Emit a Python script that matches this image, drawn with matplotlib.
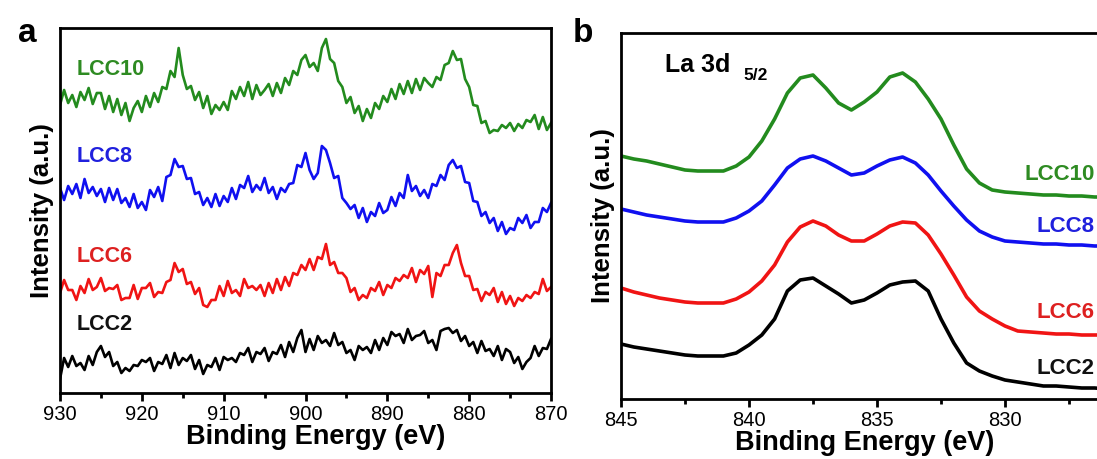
import numpy as np
import matplotlib.pyplot as plt

plt.rcParams['font.family'] = ['Liberation Sans', 'DejaVu Sans']

# ---- panel a: wide scan, 930 -> 870 eV, 0.5 eV step ----
be_a = np.linspace(930, 870, 121)
lcc10_a = [288, 303, 290, 298, 286, 301, 293, 305, 289, 300,
           300, 284, 297, 281, 294, 278, 290, 272, 285, 292,
           281, 297, 286, 300, 291, 306, 304, 322, 316, 345,
           318, 304, 307, 293, 301, 285, 297, 279, 288, 283,
           291, 283, 302, 294, 306, 297, 311, 294, 308, 298,
           303, 309, 297, 310, 300, 315, 308, 322, 318, 333,
           338, 326, 330, 322, 345, 354, 334, 330, 312, 306,
           290, 296, 280, 287, 272, 284, 275, 290, 284, 297,
           291, 304, 294, 309, 299, 312, 300, 314, 303, 315,
           310, 306, 316, 313, 328, 330, 342, 333, 334, 314,
           306, 288, 287, 270, 272, 260, 263, 262, 268, 265,
           270, 262, 269, 265, 273, 271, 278, 264, 276, 263,
           270]
lcc8_a = [205, 193, 207, 199, 209, 195, 214, 200, 206, 197,
          204, 191, 205, 193, 204, 190, 195, 186, 199, 185,
          191, 183, 203, 196, 206, 192, 216, 218, 234, 226,
          227, 214, 215, 199, 201, 188, 195, 186, 199, 187,
          197, 191, 205, 194, 208, 205, 217, 201, 208, 203,
          215, 200, 206, 194, 205, 201, 209, 210, 228, 226,
          240, 223, 214, 220, 247, 243, 230, 215, 217, 195,
          190, 184, 188, 175, 185, 171, 181, 177, 190, 180,
          183, 196, 187, 200, 195, 218, 202, 207, 197, 203,
          195, 209, 207, 218, 213, 228, 233, 225, 227, 211,
          210, 192, 191, 177, 181, 170, 175, 162, 171, 159,
          165, 163, 175, 170, 178, 165, 171, 171, 185, 181,
          190]
lcc6_a = [100, 113, 103, 103, 93, 107, 100, 114, 103, 106,
          115, 102, 105, 104, 108, 93, 95, 95, 108, 94,
          105, 105, 110, 96, 101, 100, 111, 113, 130, 121,
          124, 109, 111, 99, 105, 88, 86, 93, 93, 107,
          97, 112, 100, 103, 97, 114, 105, 107, 103, 108,
          97, 110, 100, 114, 103, 116, 107, 120, 118, 128,
          123, 134, 123, 136, 134, 149, 128, 131, 120, 120,
          115, 101, 105, 93, 98, 95, 105, 102, 111, 98,
          108, 105, 115, 112, 118, 115, 125, 111, 123, 119,
          127, 96, 120, 117, 128, 128, 140, 148, 130, 117,
          117, 103, 104, 92, 101, 98, 105, 91, 101, 89,
          97, 87, 95, 92, 98, 95, 101, 99, 114, 102,
          106]
lcc2_a = [14, 35, 26, 37, 27, 30, 23, 37, 28, 41,
          47, 36, 41, 27, 31, 20, 25, 22, 28, 27,
          33, 31, 35, 22, 31, 29, 38, 25, 40, 28,
          35, 32, 38, 24, 33, 19, 28, 26, 35, 23,
          36, 33, 35, 31, 40, 38, 45, 31, 41, 39,
          45, 32, 41, 39, 48, 36, 51, 41, 55, 63,
          41, 54, 43, 57, 50, 53, 47, 60, 48, 51,
          40, 43, 33, 47, 43, 46, 40, 53, 43, 55,
          48, 61, 57, 59, 50, 64, 53, 57, 58, 62,
          50, 53, 43, 62, 64, 65, 60, 63, 52, 57,
          47, 51, 40, 52, 42, 44, 37, 47, 33, 44,
          41, 30, 36, 24, 31, 35, 47, 37, 45, 44,
          54]

# ---- panel b: La 3d5/2, 845 -> 825 eV, 0.5 eV step ----
be_b = np.linspace(845, 825, 41)
lcc10_b = [243, 240, 238, 235, 232, 229, 228, 228, 228, 233,
           242, 258, 280, 306, 321, 324, 311, 296, 289, 297,
           307, 322, 326, 317, 300, 280, 254, 230, 216, 209,
           207, 206, 205, 204, 204, 203, 203, 202, 202, 202,
           202]
lcc8_b = [190, 187, 184, 182, 180, 178, 177, 177, 177, 181,
          188, 198, 214, 231, 240, 243, 238, 231, 224, 226,
          233, 239, 242, 236, 224, 208, 193, 179, 168, 162,
          158, 157, 156, 155, 155, 154, 154, 153, 153, 153,
          153]
lcc6_b = [111, 107, 104, 101, 99, 97, 96, 96, 96, 100,
          107, 118, 134, 157, 172, 178, 173, 164, 158, 158,
          165, 173, 177, 176, 164, 145, 124, 102, 88, 80,
          73, 68, 67, 66, 65, 65, 64, 64, 64, 63,
          63]
lcc2_b = [55, 52, 50, 48, 46, 44, 43, 43, 43, 46,
          54, 64, 80, 108, 119, 121, 113, 105, 96, 99,
          106, 114, 117, 118, 108, 80, 56, 36, 28, 23,
          19, 17, 15, 13, 13, 12, 11, 11, 10, 10,
          10]

names = ['LCC10', 'LCC8', 'LCC6', 'LCC2']
colors = ['#238b1e', '#1010f0', '#f01414', '#000000']
text_colors = ['#2e8b22', '#2020dd', '#dd2020', '#111111']


def style_axes(ax):
    for s in ax.spines.values():
        s.set_linewidth(2)
    ax.set_yticks([])
    ax.tick_params(axis='x', which='major', direction='out', length=6, width=2,
                   labelsize=14.5, pad=3)
    ax.tick_params(axis='x', which='minor', direction='out', length=3.5, width=2)
    ax.set_ylabel('Intensity (a.u.)', fontsize=18.5, fontweight='bold', labelpad=4)
    ax.set_xlabel('Binding Energy (eV)', fontsize=19.5, fontweight='bold')


fig = plt.figure(figsize=(10.97, 4.59), dpi=100)

ax1 = fig.add_axes([60 / 1097, 1 - 393 / 459, 491 / 1097, 365 / 459])
for y, c in zip([lcc10_a, lcc8_a, lcc6_a, lcc2_a], colors):
    ax1.plot(be_a, y, color=c, lw=1.9)
ax1.set_xlim(930, 870)
ax1.set_ylim(0, 365)
ax1.set_xticks(np.arange(930, 869, -10))
ax1.set_xticks(np.arange(925, 870, -10), minor=True)
style_axes(ax1)
ax1.xaxis.set_label_coords(0.52, -0.085)
for name, tc, yy in zip(names, text_colors, [323, 236, 136, 68]):
    ax1.text(928.0, yy, name, color=tc, fontsize=15.5, fontweight='bold',
             ha='left', va='center')
fig.text(18 / 1097, 1 - 33 / 459, 'a', fontsize=24, fontweight='bold', va='center')

ax2 = fig.add_axes([621 / 1097, 1 - 399 / 459, 512 / 1097, 366 / 459])
for y, c in zip([lcc10_b, lcc8_b, lcc6_b, lcc2_b], colors):
    ax2.plot(be_b, y, color=c, lw=2.6)
ax2.set_xlim(845, 825)
ax2.set_ylim(0, 366)
ax2.set_xticks([845, 840, 835, 830])
ax2.set_xticks([842.5, 837.5, 832.5, 827.5], minor=True)
style_axes(ax2)
ax2.xaxis.set_label_coords((865 - 621) / 512, -0.085)
for name, tc, yy in zip(names, text_colors, [224, 172, 86, 30]):
    ax2.text(826.5, yy, name, color=tc, fontsize=16, fontweight='bold',
             ha='right', va='center')
ax2.text(843.3, 334, 'La 3d', fontsize=18, fontweight='bold', ha='left', va='center')
ax2.text(840.2, 324, '5/2', fontsize=12.5, fontweight='bold', ha='left', va='center')
fig.text(573 / 1097, 1 - 33 / 459, 'b', fontsize=24, fontweight='bold', va='center')

fig.savefig('out.png', dpi=100)
